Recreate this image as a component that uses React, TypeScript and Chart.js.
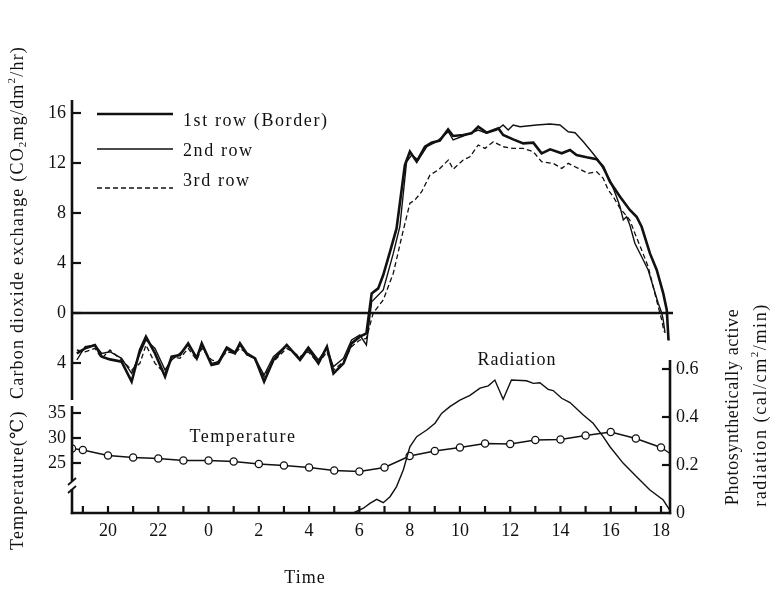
import React, { useEffect, useRef } from "react";
import { Chart, registerables } from "chart.js";

Chart.register(...registerables);

// ---------- data (time in hours from midnight of the first day; 24 = 0h next day) ----------
const nightHours = [18.76, 19.09, 19.48, 19.75, 20.08, 20.54, 20.94, 21.27, 21.51, 21.87, 22.27, 22.53, 22.86, 23.19, 23.53, 23.73, 24.12, 24.39, 24.72, 25.05, 25.25, 25.52, 25.85, 26.21, 26.58, 27.11, 27.64, 27.97, 28.37, 28.71, 28.97, 29.37, 29.69, 30.02, 30.28];
const row1Night = [-3.23, -2.83, -2.56, -3.49, -3.71, -3.89, -5.49, -2.96, -1.89, -3.23, -5.09, -3.49, -3.36, -2.43, -3.63, -2.43, -4.16, -4.03, -2.83, -3.23, -2.43, -3.23, -3.63, -5.49, -3.76, -2.56, -3.76, -2.83, -4.03, -2.69, -4.83, -4.03, -2.43, -1.89, -1.63];
const row2Night = [-3.76, -2.69, -2.56, -3.23, -3.1, -3.63, -4.83, -3.23, -2.16, -2.83, -4.56, -3.76, -3.23, -2.56, -3.49, -2.56, -4.03, -3.89, -2.69, -3.1, -2.56, -3.36, -3.63, -4.96, -3.49, -2.56, -3.63, -2.69, -3.76, -2.83, -4.29, -3.63, -2.16, -1.76, -2.56];
const row3Night = [-2.96, -3.1, -2.83, -3.63, -2.96, -3.76, -4.56, -4.03, -2.56, -4.03, -4.83, -3.49, -3.63, -2.83, -3.76, -2.83, -3.76, -3.89, -3.1, -3.23, -2.83, -3.23, -3.76, -5.09, -3.89, -2.83, -3.49, -3.1, -4.03, -3.1, -4.56, -3.89, -2.69, -2.16, -2.03];

const row1DayHours = [30.49, 30.75, 30.95, 31.22, 31.48, 31.81, 32.01, 32.28, 32.61, 32.87, 33.2, 33.53, 33.73, 34.13, 34.46, 34.73, 35.06, 35.53, 35.72, 36.12, 36.52, 36.92, 37.25, 37.59, 38.05, 38.38, 38.64, 39.04, 39.44, 39.7, 39.97, 40.37, 40.76, 41.03, 41.23, 41.56, 41.83, 42.09, 42.23, 42.3];
const row1Day = [1.57, 1.97, 3.04, 4.91, 6.77, 11.84, 12.91, 12.11, 13.31, 13.63, 13.79, 14.69, 14.16, 14.24, 14.37, 14.9, 14.43, 14.77, 14.24, 13.89, 13.57, 13.63, 12.77, 13.09, 12.78, 13.04, 12.64, 12.46, 12.3, 11.7, 10.5, 9.3, 8.24, 7.7, 6.9, 4.77, 3.44, 1.57, 0.24, -2.2];

const row2DayHours = [30.49, 30.95, 31.35, 31.61, 31.88, 32.08, 32.34, 32.68, 33.07, 33.54, 33.73, 34.13, 34.73, 35.06, 35.46, 35.72, 35.92, 36.12, 36.39, 37.05, 37.58, 37.98, 38.31, 38.58, 38.91, 39.24, 39.5, 39.77, 39.97, 40.23, 40.37, 40.5, 40.63, 40.76, 40.96, 41.23, 41.49, 41.69, 41.89, 42.03, 42.09, 42.16];
const row2Day = [0.9, 1.84, 4.77, 6.9, 12.1, 12.64, 12.24, 13.3, 13.7, 14.5, 13.84, 14.16, 14.64, 14.37, 14.64, 15.04, 14.64, 15.04, 14.9, 15.04, 15.12, 15.04, 14.5, 14.42, 13.7, 12.9, 12.24, 11.3, 10.64, 9.3, 8.5, 7.44, 7.7, 7.04, 5.58, 4.5, 3.44, 2.1, 0.78, 0, -0.56, -1.6];

const row3DayHours = [30.55, 30.95, 31.35, 31.75, 32.01, 32.21, 32.48, 32.81, 33.14, 33.54, 33.73, 34.13, 34.4, 34.73, 35.0, 35.33, 35.72, 36.12, 36.52, 36.92, 37.25, 37.71, 38.05, 38.31, 38.71, 39.1, 39.44, 39.7, 39.9, 40.1, 40.37, 40.76, 40.96, 41.23, 41.49, 41.69, 41.89, 42.03, 42.12];
const row3Day = [0, 1.04, 3.18, 6.64, 8.78, 9.04, 9.7, 11.04, 11.44, 12.24, 11.5, 12.24, 12.5, 13.44, 13.17, 13.7, 13.3, 13.17, 13.17, 12.9, 12.1, 11.97, 11.57, 11.97, 11.57, 11.17, 11.3, 10.78, 9.84, 9.3, 8.38, 7.44, 6.38, 5.04, 3.7, 2.1, 0.5, -0.56, -1.5];

const radHours = [29.76, 30.16, 30.42, 30.69, 30.95, 31.22, 31.48, 31.75, 32.01, 32.28, 32.68, 33.01, 33.27, 33.6, 34.0, 34.4, 34.8, 35.13, 35.39, 35.72, 36.05, 36.65, 36.92, 37.18, 37.51, 37.71, 38.05, 38.38, 38.91, 39.3, 39.7, 39.97, 40.5, 41.03, 41.56, 42.09, 42.36];
const radValues = [0, 0.02, 0.04, 0.057, 0.043, 0.068, 0.11, 0.18, 0.276, 0.318, 0.346, 0.374, 0.415, 0.443, 0.47, 0.49, 0.52, 0.53, 0.554, 0.474, 0.554, 0.551, 0.54, 0.543, 0.515, 0.51, 0.478, 0.46, 0.408, 0.374, 0.318, 0.276, 0.207, 0.151, 0.096, 0.054, 0.01];

const tempHours = [18.57, 19, 20, 21, 22, 23, 24, 25, 26, 27, 28, 29, 30, 31, 32, 33, 34, 35, 36, 37, 38, 39, 40, 41, 42, 42.36];
const tempValues = [27.9, 27.6, 26.5, 26.1, 25.9, 25.5, 25.5, 25.3, 24.8, 24.5, 24.1, 23.5, 23.3, 24.1, 26.4, 27.4, 28.1, 28.9, 28.8, 29.6, 29.7, 30.5, 31.2, 29.9, 28.1, 26.9];

const co2Ticks = [16, 12, 8, 4, 0, -4];
const tempTicks = [35, 30, 25];
const radTicks = [0.6, 0.4, 0.2, 0];
const hourLabelTicks = [20, 22, 24, 26, 28, 30, 32, 34, 36, 38, 40, 42];
const hourMinorTicks = [19, 20, 21, 22, 23, 24, 25, 26, 27, 28, 29, 30, 31, 32, 33, 34, 35, 36, 37, 38, 39, 40, 41, 42];
const seriesNames = ["1st row (Border)", "2nd row", "3rd row"];

// ---------- layout ----------
const W = 770;
const H = 590;
const AREA = { left: 72, right: 670, top: 100, bottom: 513 };
const SERIF = "'Liberation Serif', 'DejaVu Serif', serif";
const INK = "#111";

// value range that puts v1 at pixel p1 and v2 at pixel p2 inside the plot area
function rangeFor(v1: number, p1: number, v2: number, p2: number) {
  const k = (p1 - p2) / (v2 - v1);
  return { min: v1 - (AREA.bottom - p1) / k, max: v1 + (p1 - AREA.top) / k };
}
function xRange(h1: number, p1: number, h2: number, p2: number) {
  const k = (p2 - p1) / (h2 - h1);
  return { min: h1 - (p1 - AREA.left) / k, max: h2 + (AREA.right - p2) / k };
}
const X_RANGE = xRange(20, 108, 42, 661);
const CO2_RANGE = rangeFor(0, 313, 16, 113);
const TEMP_RANGE = rangeFor(25, 463, 35, 413);
const RAD_RANGE = rangeFor(0, 513, 0.6, 369);

const pts = (xs: number[], ys: number[]) => xs.map((x, i) => ({ x, y: ys[i] }));

type Run = { t: string; sub?: boolean; sup?: boolean };

function drawRuns(ctx: CanvasRenderingContext2D, runs: Run[], cx: number, cy: number, size: number, spacing: number, rotate: boolean) {
  ctx.save();
  ctx.translate(cx, cy);
  if (rotate) ctx.rotate(-Math.PI / 2);
  ctx.textBaseline = "middle";
  ctx.textAlign = "left";
  ctx.fillStyle = INK;
  (ctx as any).letterSpacing = spacing + "px";
  const fontFor = (r: Run) => `${r.sub || r.sup ? Math.round(size * 0.62) : size}px ${SERIF}`;
  let total = 0;
  for (const r of runs) {
    ctx.font = fontFor(r);
    total += ctx.measureText(r.t).width;
  }
  let x = -total / 2;
  for (const r of runs) {
    ctx.font = fontFor(r);
    const dy = r.sub ? size * 0.28 : r.sup ? -size * 0.35 : 0;
    ctx.fillText(r.t, x, dy);
    x += ctx.measureText(r.t).width;
  }
  ctx.restore();
}

function text(ctx: CanvasRenderingContext2D, s: string, x: number, y: number, align: CanvasTextAlign, size = 18, spacing = 0) {
  ctx.save();
  ctx.font = `${size}px ${SERIF}`;
  (ctx as any).letterSpacing = spacing + "px";
  ctx.textAlign = align;
  ctx.textBaseline = "middle";
  ctx.fillStyle = INK;
  ctx.fillText(s, x, y);
  ctx.restore();
}

function line(ctx: CanvasRenderingContext2D, x1: number, y1: number, x2: number, y2: number, w: number, dash: number[] = []) {
  ctx.save();
  ctx.strokeStyle = INK;
  ctx.lineWidth = w;
  ctx.setLineDash(dash);
  ctx.beginPath();
  ctx.moveTo(x1, y1);
  ctx.lineTo(x2, y2);
  ctx.stroke();
  ctx.restore();
}

const framePlugin = {
  id: "frame",
  afterDatasetsDraw(chart: any) {
    const ctx: CanvasRenderingContext2D = chart.ctx;
    const { left, right, bottom, top } = chart.chartArea;
    const xs = chart.scales.x;
    const co2 = chart.scales.yCo2;
    const temp = chart.scales.yTemp;
    const rad = chart.scales.yRad;

    // zero line of the exchange panel
    const y0 = co2.getPixelForValue(0);
    line(ctx, left, y0, right + 3, y0, 2.6);

    // left axis: exchange part
    line(ctx, left, top, left, 400, 2.6);
    for (const v of co2Ticks) {
      const y = co2.getPixelForValue(v);
      line(ctx, left, y, left + 9, y, 2.2);
      text(ctx, String(Math.abs(v)), left - 6, y, "right");
    }

    // left axis: temperature part, with break marks
    line(ctx, left, 406, left, 481, 2.6);
    line(ctx, left, 489, left, bottom + 1.2, 2.6);
    line(ctx, left + 4, 478, left - 4, 485, 1.8);
    line(ctx, left + 4, 486, left - 4, 493, 1.8);
    for (const v of tempTicks) {
      const y = temp.getPixelForValue(v);
      line(ctx, left, y, left + 9, y, 2.2);
      text(ctx, String(v), left - 6, y, "right");
    }

    // right axis: radiation
    line(ctx, right, 360, right, bottom + 1.2, 2.6);
    for (const v of radTicks) {
      const y = rad.getPixelForValue(v);
      if (v !== 0) line(ctx, right, y, right - 8, y, 2.2);
      text(ctx, v === 0 ? "0" : v.toFixed(1), right + 6, y, "left");
    }

    // time axis
    line(ctx, left - 1.2, bottom, right + 1.2, bottom, 2.6);
    for (const h of hourMinorTicks) {
      const x = xs.getPixelForValue(h);
      line(ctx, x, bottom, x, bottom - 7, 2.2);
    }
    for (const h of hourLabelTicks) {
      const x = xs.getPixelForValue(h);
      text(ctx, String(h % 24), x, bottom + 18, "center");
    }
    text(ctx, "Time", 305, 578, "center", 18, 1);

    // in-plot labels
    text(ctx, "Radiation", 517, 360, "center", 18, 1);
    text(ctx, "Temperature", 243, 437, "center", 18, 1.5);

    // legend
    const ds = chart.data.datasets;
    const legendRows = [
      { y: 114, ty: 121 },
      { y: 149, ty: 151 },
      { y: 188, ty: 181 },
    ];
    legendRows.forEach((r, i) => {
      line(ctx, 97, r.y, 173, r.y, ds[i].borderWidth, ds[i].borderDash || []);
      text(ctx, seriesNames[i], 183, r.ty, "left", 18, 1.6);
    });

    // axis titles
    drawRuns(
      ctx,
      [
        { t: "Temperature(\u2103)  Carbon dioxide exchange (CO" },
        { t: "2", sub: true },
        { t: "mg/dm" },
        { t: "2", sup: true },
        { t: "/hr)" },
      ],
      18,
      298,
      18,
      1.2,
      true
    );
    drawRuns(ctx, [{ t: "Photosynthetically active" }], 733, 407, 18, 0.6, true);
    drawRuns(
      ctx,
      [{ t: "radiation (cal/cm" }, { t: "2", sup: true }, { t: "/min)" }],
      761,
      405,
      18,
      1.6,
      true
    );
  },
};

export default function App() {
  const ref = useRef<HTMLCanvasElement>(null);

  useEffect(() => {
    const canvas = ref.current;
    if (!canvas) return;
    const chart = new Chart(canvas, {
      type: "line",
      data: {
        datasets: [
          {
            label: seriesNames[0],
            data: pts([...nightHours, ...row1DayHours], [...row1Night, ...row1Day]),
            yAxisID: "yCo2",
            borderColor: INK,
            borderWidth: 2.6,
            pointRadius: 0,
          },
          {
            label: seriesNames[1],
            data: pts([...nightHours, ...row2DayHours], [...row2Night, ...row2Day]),
            yAxisID: "yCo2",
            borderColor: INK,
            borderWidth: 1.4,
            pointRadius: 0,
          },
          {
            label: seriesNames[2],
            data: pts([...nightHours, ...row3DayHours], [...row3Night, ...row3Day]),
            yAxisID: "yCo2",
            borderColor: INK,
            borderWidth: 1.3,
            borderDash: [5, 3],
            pointRadius: 0,
          },
          {
            label: "Radiation",
            data: pts(radHours, radValues),
            yAxisID: "yRad",
            borderColor: INK,
            borderWidth: 1.4,
            pointRadius: 0,
          },
          {
            label: "Temperature",
            data: pts(tempHours, tempValues),
            yAxisID: "yTemp",
            borderColor: INK,
            borderWidth: 1.4,
            pointRadius: tempHours.map((_, i) => (i === tempHours.length - 1 ? 0 : 3.6)),
            pointBackgroundColor: "#fff",
            pointBorderColor: INK,
            pointBorderWidth: 1.3,
          },
        ] as any,
      },
      options: {
        animation: false,
        responsive: false,
        devicePixelRatio: 1,
        layout: {
          padding: {
            left: AREA.left,
            top: AREA.top,
            right: W - AREA.right,
            bottom: H - AREA.bottom,
          },
        },
        plugins: { legend: { display: false }, tooltip: { enabled: false } },
        elements: { line: { tension: 0 } },
        scales: {
          x: { type: "linear", axis: "x", position: "bottom", min: X_RANGE.min, max: X_RANGE.max, display: false },
          yCo2: { type: "linear", axis: "y", position: "left", min: CO2_RANGE.min, max: CO2_RANGE.max, display: false },
          yTemp: { type: "linear", axis: "y", position: "left", min: TEMP_RANGE.min, max: TEMP_RANGE.max, display: false },
          yRad: { type: "linear", axis: "y", position: "right", min: RAD_RANGE.min, max: RAD_RANGE.max, display: false },
        } as any,
      },
      plugins: [framePlugin],
    });
    return () => chart.destroy();
  }, []);

  return (
    <div style={{ position: "fixed", left: 0, top: 0, width: W, height: H, background: "#fff" }}>
      <canvas ref={ref} width={W} height={H} style={{ width: W, height: H, display: "block" }} />
    </div>
  );
}
